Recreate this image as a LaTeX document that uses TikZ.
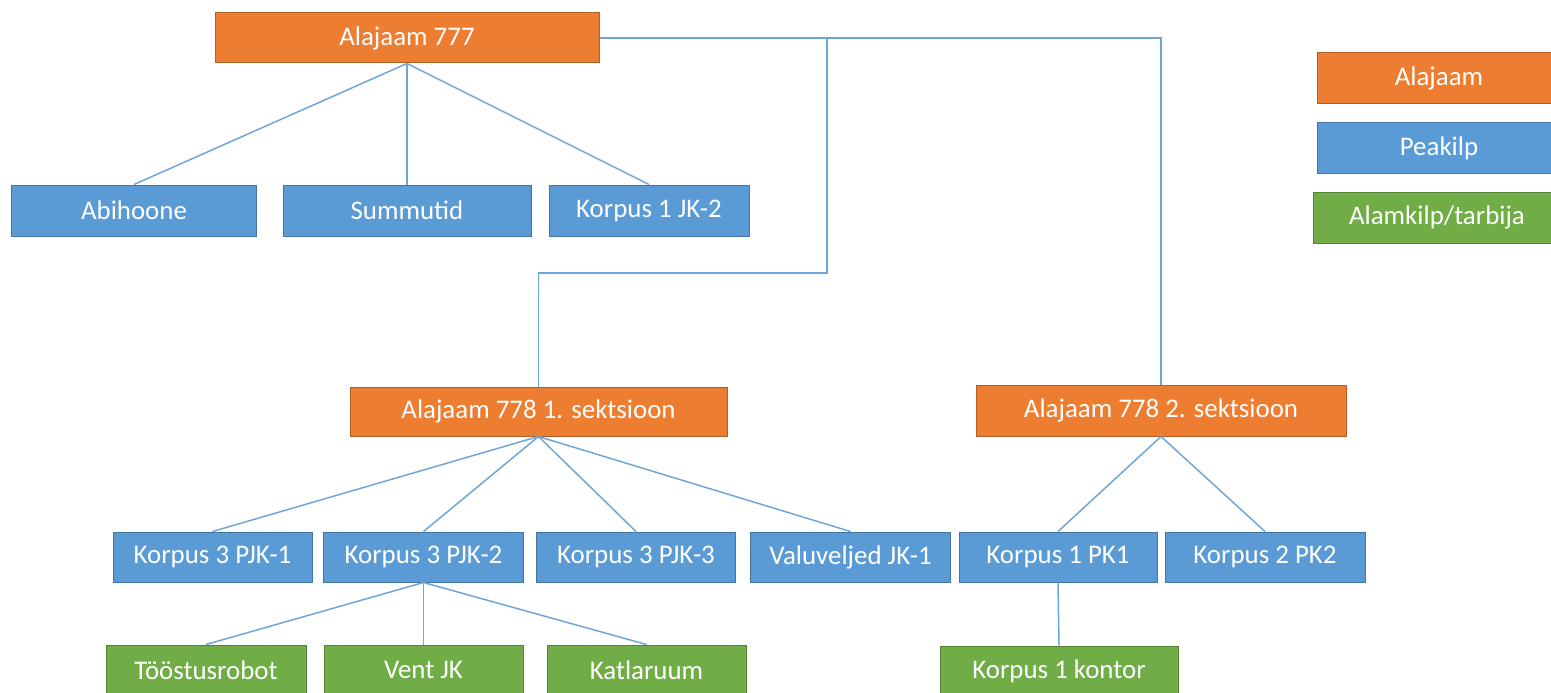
\documentclass[tikz,border=0pt]{standalone}
\usepackage{fontspec}
\setmainfont{Carlito}
\definecolor{alaorange}{HTML}{ED7D31}
\definecolor{peablue}{HTML}{5B9BD5}
\definecolor{alamgreen}{HTML}{70AD47}
\definecolor{linkblue}{HTML}{6FA6DA}
\begin{document}
\begin{tikzpicture}[x=1bp,y=-1bp,
    box/.style={draw=#1!75!black, fill=#1, line width=1bp, text=white,
      inner sep=0pt, minimum height=50bp, font=\fontsize{27}{32}\selectfont},
    ala/.style={box=alaorange},
    pea/.style={box=peablue},
    alam/.style={box=alamgreen},
    link/.style={draw=linkblue, line width=1.5bp}]
      \useasboundingbox (0,0) rectangle (1551,693);
      \clip (0,0) rectangle (1551,693);

      \node[ala, minimum width=384bp] (a777) at (407,38) {Alajaam 777};
      \node[pea, minimum width=244bp, minimum height=51bp] (abihoone) at (134,210.5) {Abihoone};
      \node[pea, minimum width=248bp, minimum height=51bp] (summutid) at (407,210.5) {Summutid};
      \node[pea, minimum width=200bp, minimum height=51bp] (jk2) at (649,210.5) {Korpus 1 JK-2};

      \node[ala, minimum width=377bp, minimum height=49bp] (a778a) at (538.5,411.5) {Alajaam 778 1. sektsioon};
      \node[ala, minimum width=370bp, minimum height=51bp] (a778b) at (1161,410.5) {Alajaam 778 2. sektsioon};

      \node[pea, minimum width=199bp] (pjk1) at (212.5,557) {Korpus 3 PJK-1};
      \node[pea, minimum width=200bp] (pjk2) at (423.5,557) {Korpus 3 PJK-2};
      \node[pea, minimum width=199bp] (pjk3) at (636,557) {Korpus 3 PJK-3};
      \node[pea, minimum width=200bp] (valu) at (850.5,557) {Valuveljed JK-1};
      \node[pea, minimum width=198bp] (pk1) at (1058,557) {Korpus 1 PK1};
      \node[pea, minimum width=200bp] (pk2) at (1265,557) {Korpus 2 PK2};

      \node[alam, minimum width=200bp] (robot) at (206,670) {Tööstusrobot};
      \node[alam, minimum width=199bp] (vent) at (423.5,670) {Vent JK};
      \node[alam, minimum width=199bp] (katla) at (646.5,670) {Katlaruum};
      \node[alam, minimum width=238bp] (kontor) at (1059,671) {Korpus 1 kontor};

      \node[ala, minimum width=244bp, minimum height=51bp] (lgala) at (1439,78) {Alajaam};
      \node[pea, minimum width=244bp] (lgpea) at (1439,148) {Peakilp};
      \node[alam, minimum width=248bp, minimum height=51bp] (lgalam) at (1437,217.5) {Alamkilp/tarbija};

      \coordinate (j1) at (827,37);
      \coordinate (j2) at (827,273);

      \draw[link] (a777.south) -- (abihoone.north);
      \draw[link] (a777.south) -- (summutid.north);
      \draw[link] (a777.south) -- (jk2.north);
      \draw[link] (a777.east) -| (a778b.north);
      \draw[link] (j1) -- (j2) -| (a778a.north);

      \draw[link] (a778a.south) -- (pjk1.north);
      \draw[link] (a778a.south) -- (pjk2.north);
      \draw[link] (a778a.south) -- (pjk3.north);
      \draw[link] (a778a.south) -- (valu.north);
      \draw[link] (a778b.south) -- (pk1.north);
      \draw[link] (a778b.south) -- (pk2.north);

      \draw[link] (pjk2.south) -- (robot.north);
      \draw[link] (pjk2.south) -- (vent.north);
      \draw[link] (pjk2.south) -- (katla.north);
      \draw[link] (pk1.south) -- (kontor.north);
    \end{tikzpicture}
\end{document}
